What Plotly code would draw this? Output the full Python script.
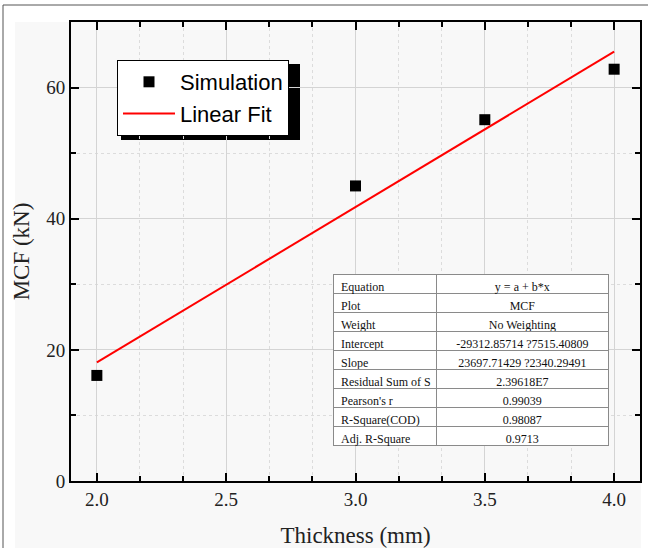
import plotly.graph_objects as go

# ---- data ----
thickness = [2.0, 3.0, 3.5, 4.0]
mcf_sim = [16.1, 45.0, 55.1, 62.8]
fit_x = [2.0, 4.0]
fit_y = [18.08, 65.48]

table_labels = ["Equation", "Plot", "Weight", "Intercept", "Slope",
                "Residual\u00a0Sum\u00a0of\u00a0S", "Pearson's r", "R-Square(COD)", "Adj. R-Square"]
table_values = ["y = a + b*x", "MCF", "No Weighting", "-29312.85714 ?7515.40809",
                "23697.71429 ?2340.29491", "2.39618E7", "0.99039", "0.98087", "0.9713"]

W, H = 648, 548
ml, mr, mt, mb = 71, 8, 22, 67
pw, ph = W - ml - mr, H - mt - mb

def px_x(p):
    return (p - ml) / pw

def px_y(p):
    return (H - mb - p) / ph

serif = "Liberation Serif, Times New Roman, serif"
sans = "Liberation Sans, Arial, sans-serif"

fig = go.Figure()
fig.add_trace(go.Scatter(x=thickness, y=mcf_sim, mode="markers", name="Simulation",
                         marker=dict(symbol="square", size=11, color="black")))
fig.add_trace(go.Scatter(x=fit_x, y=fit_y, mode="lines", name="Linear Fit",
                         line=dict(color="#ff0000", width=2)))

fig.add_trace(go.Table(
    domain=dict(x=[px_x(333), px_x(609)], y=[px_y(458), px_y(274)]),
    columnwidth=[104, 172],
    header=dict(values=[table_labels[0], table_values[0]], height=19,
                align=["left", "center"], fill_color="white",
                line=dict(color="#8a8a8a", width=1),
                font=dict(family=serif, size=12, color="#111")),
    cells=dict(values=[table_labels[1:], table_values[1:]], height=19,
               align=["left", "center"], fill_color="white",
               line=dict(color="#8a8a8a", width=1),
               font=dict(family=serif, size=12, color="#111")),
))

axis_common = dict(
    showline=True, linecolor="black", linewidth=2, mirror="allticks",
    ticks="inside", ticklen=8, tickwidth=2, tickcolor="black",
    showgrid=True, gridcolor="#d4d4d4", gridwidth=1, zeroline=False,
    tickfont=dict(family=serif, size=19, color="#222"),
)

fig.update_xaxes(range=[1.9, 4.1], tick0=2.0, dtick=0.5, tickformat=".1f",
                 minor=dict(tick0=2.0, dtick=0.5 / 3, ticks="inside", ticklen=5,
                            tickwidth=1.5, tickcolor="black", showgrid=True,
                            gridcolor="#dcdcdc", griddash="dot", gridwidth=1),
                 title=dict(text="Thickness (mm)", font=dict(family=serif, size=23, color="#222"),
                            standoff=20),
                 **axis_common)
fig.update_yaxes(range=[0, 70], tick0=0, dtick=20,
                 minor=dict(tick0=0, dtick=10, ticks="inside", ticklen=5,
                            tickwidth=1.5, tickcolor="black", showgrid=True,
                            gridcolor="#dcdcdc", griddash="dot", gridwidth=1),
                 title=dict(text="MCF (kN)", font=dict(family=serif, size=23, color="#222"),
                            standoff=10),
                 **axis_common)

shapes = [
    # light background panel
    dict(type="rect", xref="paper", yref="paper", x0=px_x(15), x1=px_x(641),
         y0=px_y(560), y1=px_y(22), fillcolor="#f8f8f8", line=dict(width=0), layer="below"),
    # outer frame
    dict(type="rect", xref="paper", yref="paper", x0=px_x(3), x1=px_x(700),
         y0=px_y(600), y1=px_y(5), line=dict(color="#555", width=1), layer="below"),
    # legend shadow
    dict(type="rect", xref="paper", yref="paper", x0=px_x(121), x1=px_x(300),
         y0=px_y(140), y1=px_y(64), fillcolor="black", line=dict(width=0), layer="below"),
]

fig.update_layout(
    width=W, height=H,
    margin=dict(l=ml, r=mr, t=mt, b=mb, autoexpand=False),
    paper_bgcolor="white", plot_bgcolor="#f8f8f8",
    shapes=shapes,
    showlegend=True,
    legend=dict(x=px_x(117), y=px_y(60), xanchor="left", yanchor="top",
                bgcolor="white", bordercolor="black", borderwidth=1,
                font=dict(family=sans, size=22, color="black"),
                tracegroupgap=0, itemwidth=52),
)

fig.write_html("out.html", config={"displayModeBar": False},
               post_script="document.body.style.margin='0';")
